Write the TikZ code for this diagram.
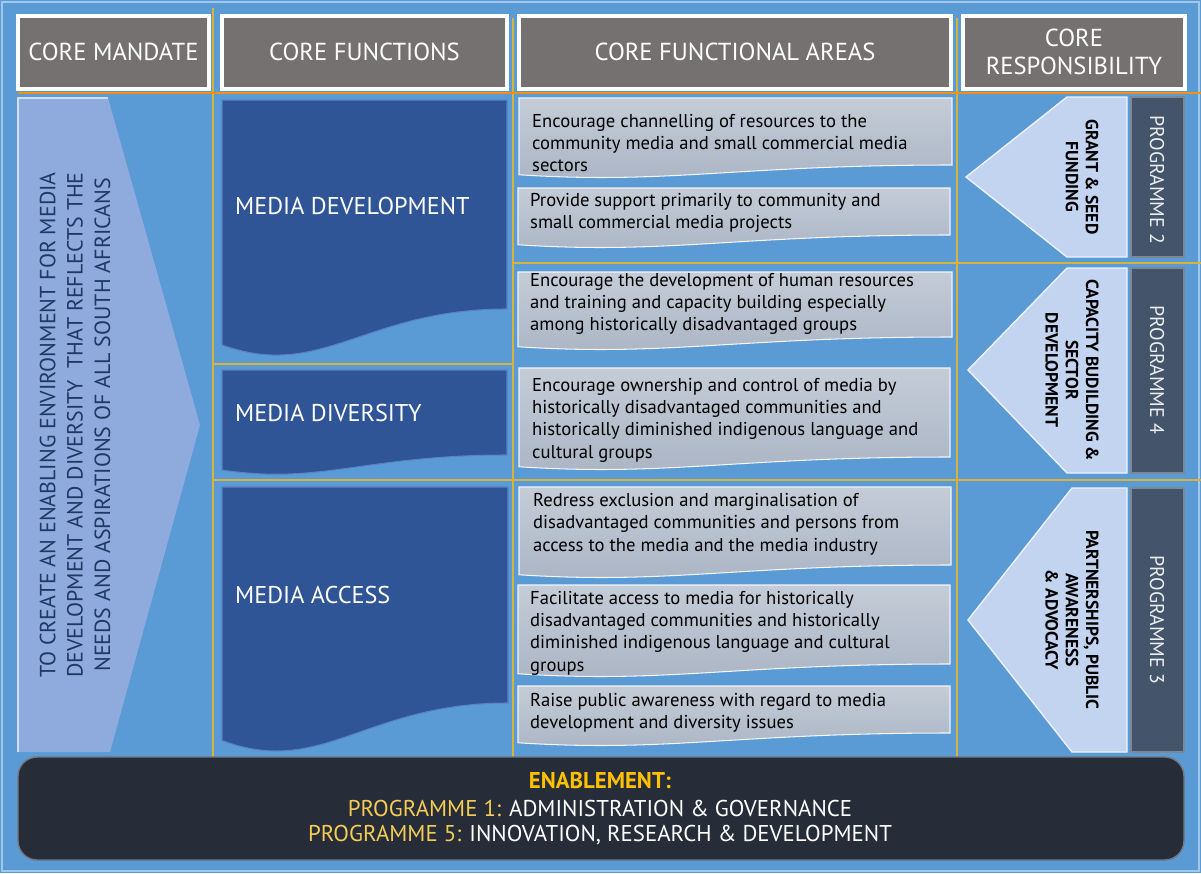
\documentclass[tikz,border=0pt]{standalone}
\usepackage{fontspec}
\setmainfont{PT Sans}
\definecolor{bgblue}{RGB}{91,155,213}
\definecolor{bgedge}{RGB}{160,200,235}
\definecolor{gridline}{RGB}{214,180,60}
\definecolor{headgray}{RGB}{118,113,113}
\definecolor{funcblue}{RGB}{47,85,151}
\definecolor{funcedge}{RGB}{90,130,200}
\definecolor{areatop}{RGB}{196,204,215}
\definecolor{areabot}{RGB}{170,180,196}
\definecolor{mandfill}{RGB}{143,170,220}
\definecolor{mandtext}{RGB}{31,56,100}
\definecolor{respfill}{RGB}{194,212,240}
\definecolor{progslate}{RGB}{68,84,106}
\definecolor{enabfill}{RGB}{38,44,56}
\definecolor{enabgold}{RGB}{255,192,0}
\definecolor{proggold}{RGB}{245,205,85}

\tikzset{
	headbox/.style={draw=white, line width=2.4pt, fill=headgray},
	headtext/.style={text=white, font=\fontsize{14}{16}\selectfont, align=center},
	functext/.style={text=white, font=\fontsize{13.8}{16}\selectfont, anchor=west},
	areabox/.style={top color=areatop, bottom color=areabot, draw=white!80!areatop, line width=0.6pt},
	areatext/.style={text=black, font=\fontsize{10.6}{12.7}\selectfont, align=left, anchor=west},
	respbox/.style={fill=respfill, draw=white!70!respfill, line width=0.8pt},
	resptext/.style={text=black, font=\bfseries\fontsize{10}{11.5}\selectfont, align=center, rotate=-90},
	progbox/.style={fill=progslate, draw=progslate!70!white, line width=0.6pt},
	progtext/.style={text=white!90!progslate, font=\fontsize{11.3}{13}\selectfont, rotate=-90},
	grid/.style={draw=gridline, line width=0.6pt}
}

\newcommand{\wavebox}[6]{%
	\path[#6] (#1,#2) -- (#3,#2) -- (#3,{#4-#5})
		.. controls ({#3-0.5*(#3-#1)},{#4-#5}) and ({#1+0.35*(#3-#1)},{#4+0.5*#5}) ..
		(#1,{#4-0.25*#5}) -- cycle;
}

\begin{document}
\begin{tikzpicture}[x=0.02cm, y=-0.02cm]
	\useasboundingbox (0,0) rectangle (1201,873);
	\fill[bgblue] (0,0) rectangle (1201,873);
	\draw[bgedge, line width=1.5pt] (2,2) rectangle (1199,871);

	\draw[grid] (213,8) -- (213,757);
	\draw[grid] (513,18) -- (513,757);
	\draw[grid] (957,18) -- (957,757);
	\draw[grid, draw=orange!70!gridline] (18,93) -- (1201,93);
	\draw[grid] (213,364) -- (513,364);
	\draw[grid] (513,263) -- (1201,263);
	\draw[grid] (213,480) -- (1201,480);

	\draw[headbox] (18,16) rectangle (209,89);
	\draw[headbox] (222,16) rectangle (507,89);
	\draw[headbox] (519,16) rectangle (951,89);
	\draw[headbox] (963,16) rectangle (1185,89);
	\node[headtext] (hmandate) at (113.5,52) {CORE MANDATE};
	\node[headtext] (hfunctions) at (364.5,52) {CORE FUNCTIONS};
	\node[headtext] (hareas) at (735,52) {CORE FUNCTIONAL AREAS};
	\node[headtext] (hresp) at (1074,52) {CORE\\RESPONSIBILITY};

	\fill[mandfill] (18,98) -- (108,98) -- (200,425) -- (110,752) -- (18,752) -- cycle;
	\draw[white!60!mandfill, line width=1pt] (18,752) -- (18,98) -- (108,98);
	\node[text=mandtext, font=\fontsize{12.5}{15.6}\selectfont, align=center, rotate=90] (mandate) at (75,425)
		{TO CREATE AN ENABLING ENVIRONMENT FOR MEDIA\\DEVELOPMENT AND DIVERSITY\ \ THAT REFLECTS THE\\NEEDS AND ASPIRATIONS OF ALL SOUTH AFRICANS};

	\wavebox{222}{100}{507}{357}{48}{fill=funcblue, draw=funcedge, line width=0.6pt}
	\wavebox{222}{370}{507}{475}{20}{fill=funcblue, draw=funcedge, line width=0.6pt}
	\wavebox{222}{487}{508}{753}{50}{fill=funcblue, draw=funcedge, line width=0.6pt}
	\node[functext] (mdev) at (229,206) {MEDIA DEVELOPMENT};
	\node[functext] (mdiv) at (229,413) {MEDIA DIVERSITY};
	\node[functext] (macc) at (229,595) {MEDIA ACCESS};

	\wavebox{519}{98}{952}{178}{13}{areabox}
	\wavebox{518}{188}{950}{248}{13}{areabox}
	\wavebox{518}{272}{952}{350}{13}{areabox}
	\wavebox{519}{368}{950}{470}{13}{areabox}
	\wavebox{519}{487}{951}{578}{13}{areabox}
	\wavebox{518}{585}{950}{677}{13}{areabox}
	\wavebox{518}{686}{950}{746}{13}{areabox}
	\node[areatext] (area1) at (526,143) {Encourage channelling of resources to the\\community media and small commercial media\\sectors};
	\node[areatext] (area2) at (524,213) {Provide support primarily to community and\\small commercial media projects};
	\node[areatext] (area3) at (524,304) {Encourage the development of human resources\\and training and capacity building especially\\among historically disadvantaged groups};
	\node[areatext] (area4) at (526,420) {Encourage ownership and control of media by\\historically disadvantaged communities and\\historically diminished indigenous language and\\cultural groups};
	\node[areatext] (area5) at (527,524) {Redress exclusion and marginalisation of\\disadvantaged communities and persons from\\access to the media and the media industry};
	\node[areatext] (area6) at (524,633) {Facilitate access to media for historically\\disadvantaged communities and historically\\diminished indigenous language and cultural\\groups};
	\node[areatext] (area7) at (524,713) {Raise public awareness with regard to media\\development and diversity issues};

	\draw[respbox] (1127,97) -- (1067,97) -- (966,177) -- (1067,257) -- (1127,257) -- cycle;
	\draw[respbox] (1127,268) -- (1067,268) -- (968,370) -- (1067,473) -- (1127,473) -- cycle;
	\draw[respbox] (1127,488) -- (1072,488) -- (968,620) -- (1072,752) -- (1127,752) -- cycle;
	\node[resptext] (grant) at (1082,177) {GRANT \& SEED\\FUNDING};
	\node[resptext] (capacity) at (1072,370) {CAPACITY BUDILDING \&\\SECTOR\\DEVELOPMENT};
	\node[resptext] (partner) at (1072,620) {PARTNERSHIPS, PUBLIC\\AWARENESS\\\& ADVOCACY};

	\draw[progbox] (1131,97) rectangle (1184,257);
	\draw[progbox] (1131,268) rectangle (1184,473);
	\draw[progbox] (1131,488) rectangle (1184,752);
	\node[progtext] (prog2) at (1157,180) {PROGRAMME 2};
	\node[progtext] (prog4) at (1157,370) {PROGRAMME 4};
	\node[progtext] (prog3) at (1157,620) {PROGRAMME 3};

	\fill[enabfill, rounded corners=11pt] (18,757) rectangle (1184,860);
	\draw[white!35!enabfill, line width=0.8pt, rounded corners=11pt] (18,757) rectangle (1184,860);
	\node[text=enabgold, font=\bfseries\fontsize{13}{15}\selectfont] (enab) at (600,781) {ENABLEMENT:};
	\node[text=white, font=\fontsize{13}{15}\selectfont] (prog1) at (600,808) {\textcolor{proggold}{PROGRAMME 1:} ADMINISTRATION \& GOVERNANCE};
	\node[text=white, font=\fontsize{13}{15}\selectfont] (prog5) at (600,835) {\textcolor{proggold}{PROGRAMME 5:} INNOVATION, RESEARCH \& DEVELOPMENT};
\end{tikzpicture}
\end{document}
